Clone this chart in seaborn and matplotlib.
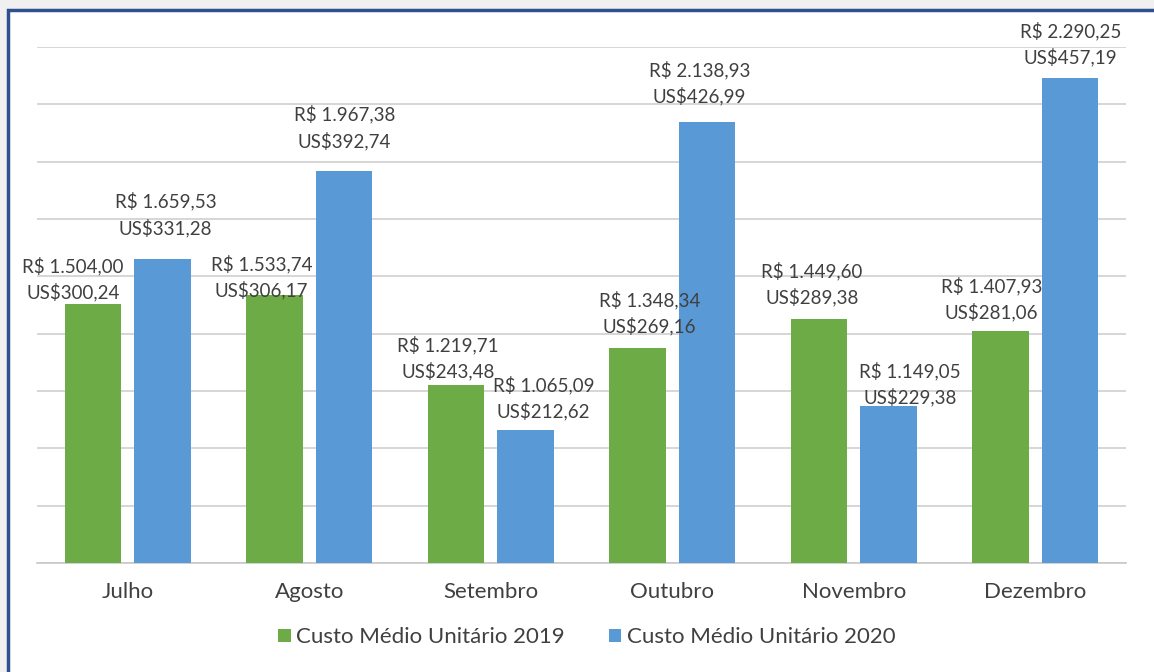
import matplotlib
matplotlib.use('Agg')
import matplotlib.pyplot as plt
from matplotlib.patches import Rectangle
import seaborn as sns
import pandas as pd

# custo medio unitario por mes
meses = ['Julho', 'Agosto', 'Setembro', 'Outubro', 'Novembro', 'Dezembro']
series = ['Custo Médio Unitário 2019', 'Custo Médio Unitário 2020']
brl_2019 = [1504.00, 1533.74, 1219.71, 1348.34, 1449.60, 1407.93]
brl_2020 = [1659.53, 1967.38, 1065.09, 2138.93, 1149.05, 2290.25]
usd_2019 = [300.24, 306.17, 243.48, 269.16, 289.38, 281.06]
usd_2020 = [331.28, 392.74, 212.62, 426.99, 229.38, 457.19]

# label nudges in pixels (the labels were hand placed in the original)
dx_lbl = [[-20, -13, -8, 12, -7, -9], [3, 0, 18, -8, 21, 0]]
dy_lbl = [[0, -6, 3, 11, 11, 8], [20, 19, 7, 14, -3, 10]]

df = pd.DataFrame({
    'mes': meses * 2,
    'serie': [series[0]] * 6 + [series[1]] * 6,
    'brl': brl_2019 + brl_2020,
    'usd': usd_2019 + usd_2020,
})

def fmt_br(v, dec=2):
    s = f'{v:,.{dec}f}'
    return s.replace(',', 'X').replace('.', ',').replace('X', '.')

sns.set_theme(style='white')
plt.rcParams['font.family'] = ['Lato', 'DejaVu Sans']
txt = '#404040'

fig = plt.figure(figsize=(11.54, 6.72), dpi=100)
fig.patch.set_facecolor('#f0f0f0')
# white panel with the dark blue frame (top / left)
fig.patches.append(Rectangle((8 / 1154, -0.1), 1.2, 1 - 10 / 672 + 0.1,
                             transform=fig.transFigure, facecolor='white',
                             edgecolor='#2f4f8f', linewidth=2.5, zorder=-5))

ax = fig.add_axes([37 / 1154, 1 - 563 / 672, (1126 - 37) / 1154, (563 - 47) / 672])
ax.set_facecolor('none')

sns.barplot(data=df, x='mes', y='brl', hue='serie', ax=ax,
            palette=['#6cab45', '#5899d6'], width=0.77, gap=0.19,
            saturation=1, linewidth=0, zorder=3)

ax.set_ylim(600, 2400)
ax.set_yticks(range(600, 2401, 200))
ax.set_yticklabels([])
ax.yaxis.grid(True, color='#d0d0d0', linewidth=1.2, zorder=0)
ax.set_axisbelow(True)
ax.tick_params(axis='y', length=0)
ax.tick_params(axis='x', length=0, labelsize=16, labelcolor=txt, pad=14)
ax.set_xlabel('')
ax.set_ylabel('')
for s in ['top', 'right', 'left']:
    ax.spines[s].set_visible(False)
ax.spines['bottom'].set_color('#c8c8c8')
ax.spines['bottom'].set_linewidth(1.2)
ax.set_xlim(-0.5, 5.5)

usd = [usd_2019, usd_2020]
brl = [brl_2019, brl_2020]
for k, cont in enumerate(ax.containers):
    for i, bar in enumerate(cont):
        x = bar.get_x() + bar.get_width() / 2
        top = bar.get_height()
        ax.annotate('R$ ' + fmt_br(brl[k][i]) + '\nUS$' + fmt_br(usd[k][i]),
                    (x, top), xytext=(dx_lbl[k][i], 2 + dy_lbl[k][i]),
                    textcoords='offset pixels',
                    ha='center', va='bottom', fontsize=13.5, color=txt,
                    linespacing=1.5, annotation_clip=False, zorder=5)

leg = ax.legend(loc='upper center', bbox_to_anchor=(0.505, -0.086), ncol=2,
                frameon=False, fontsize=16, handlelength=0.55, handleheight=0.55,
                handletextpad=0.25, columnspacing=2.0)
for t in leg.get_texts():
    t.set_color(txt)

fig.savefig('out.png', dpi=100, facecolor=fig.get_facecolor())
